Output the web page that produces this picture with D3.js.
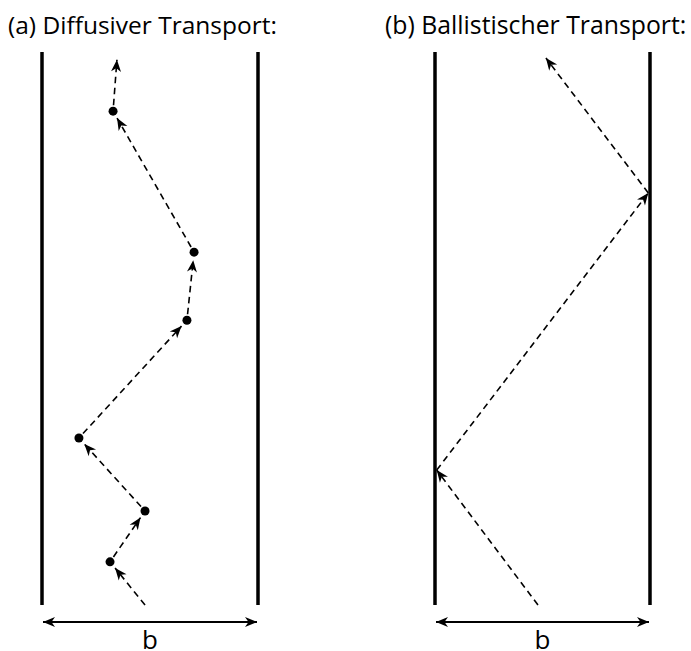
<!DOCTYPE html>
<meta charset="utf-8">
<script src="https://d3js.org/d3.v7.min.js"></script>
<style>
  body { margin: 0; background: #fff; }
  text { font-family: "Open Sans", sans-serif; fill: #000; }
</style>
<div id="my_dataviz"></div>
<script>

// channel coordinates: x = 0 (left wall) .. 1 (right wall), y = 0 (bottom) .. 1 (top)
var titles = ["(a) Diffusiver Transport:", "(b) Ballistischer Transport:"];
var widthLabel = "b";

// random walk: collision points (dots) between start and end
var diffX = [0.477, 0.315, 0.477, 0.171, 0.671, 0.704, 0.329, 0.347];
var diffY = [0.000, 0.078, 0.170, 0.302, 0.515, 0.638, 0.893, 0.986];

// ballistic: reflections only at the walls
var ballX = [0.479, 0.008, 0.992, 0.516];
var ballY = [0.000, 0.244, 0.745, 0.989];

var W = 691, H = 651;
var svg = d3.select("#my_dataviz")
  .append("svg")
    .attr("width", W)
    .attr("height", H)
    .style("display", "block");

var defs = svg.append("defs");
defs.append("marker")
    .attr("id", "head")
    .attr("markerUnits", "userSpaceOnUse")
    .attr("viewBox", "-14 -7 16 14")
    .attr("markerWidth", 16)
    .attr("markerHeight", 14)
    .attr("refX", 0)
    .attr("refY", 0)
    .attr("orient", "auto-start-reverse")
  .append("path")
    .attr("d", "M0,0 L-12,-5 L-8.5,0 L-12,5 Z")
    .attr("fill", "#000");

var panels = [
  {x0: 42, x1: 258, title: titles[0], tx: 8, fs: 24.5, xs: diffX, ys: diffY, dots: true},
  {x0: 435, x1: 650, title: titles[1], tx: 385, fs: 24.8, xs: ballX, ys: ballY, dots: false}
];

var wallTop = 52, wallBottom = 605;

panels.forEach(function(p) {
  var x = d3.scaleLinear().domain([0, 1]).range([p.x0, p.x1]);
  var y = d3.scaleLinear().domain([0, 1]).range([wallBottom, wallTop]);
  var g = svg.append("g");

  // title
  g.append("text")
    .attr("x", p.tx)
    .attr("y", 34)
    .style("font-size", p.fs + "px")
    .text(p.title);

  // walls
  g.selectAll(".wall")
    .data([0, 1])
    .enter()
    .append("line")
      .attr("x1", d => x(d)).attr("x2", d => x(d))
      .attr("y1", y(1)).attr("y2", y(0))
      .attr("stroke", "#000")
      .attr("stroke-width", 3.5);

  // path segments
  var pts = p.xs.map((v, i) => [x(v), y(p.ys[i])]);
  var segs = d3.pairs(pts);
  var gap = p.dots ? 8 : 0;
  g.selectAll(".seg")
    .data(segs)
    .enter()
    .append("line")
      .each(function(s, i) {
        var a = s[0], b = s[1];
        var dx = b[0] - a[0], dy = b[1] - a[1];
        var L = Math.sqrt(dx * dx + dy * dy);
        var last = i == segs.length - 1;
        var e = last ? 0 : gap;
        var st = (p.dots && i > 0) ? 6 : 0;
        d3.select(this)
          .attr("x1", a[0] + dx * st / L).attr("y1", a[1] + dy * st / L)
          .attr("x2", b[0] - dx * e / L).attr("y2", b[1] - dy * e / L);
      })
      .attr("stroke", "#000")
      .attr("stroke-width", 1.6)
      .attr("stroke-dasharray", "6.5,4.5")
      .attr("marker-end", "url(#head)");

  if (p.dots) {
    g.selectAll(".dot")
      .data(pts.slice(1, -1))
      .enter()
      .append("circle")
        .attr("cx", d => d[0])
        .attr("cy", d => d[1])
        .attr("r", 4.5)
        .attr("fill", "#000");
  }

  // width indicator
  g.append("line")
    .attr("x1", x(0) + 1).attr("x2", x(1) - 1)
    .attr("y1", 622).attr("y2", 622)
    .attr("stroke", "#000")
    .attr("stroke-width", 2)
    .attr("marker-start", "url(#head)")
    .attr("marker-end", "url(#head)");

  g.append("text")
    .attr("x", x(0.5))
    .attr("y", 649)
    .attr("text-anchor", "middle")
    .style("font-size", "26px")
    .text(widthLabel);
});

</script>
